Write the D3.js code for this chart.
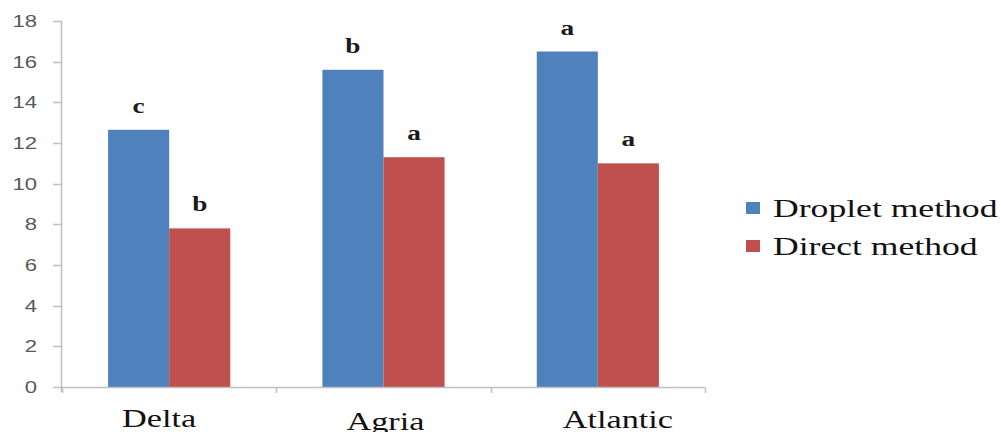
<!DOCTYPE html>
<html>
<head>
<meta charset="utf-8">
<script src="https://cdn.jsdelivr.net/npm/d3@7"></script>
<style>
  html, body { margin: 0; padding: 0; background: #fff; }
  svg { display: block; }
</style>
</head>
<body>
<svg id="chart" width="1001" height="432"></svg>
<script>
// ---- data ----
const categories = ["Delta", "Agria", "Atlantic"];
const seriesNames = ["Droplet method", "Direct method"];
const dropletValues = [12.65, 15.6, 16.5];
const directValues = [7.8, 11.3, 11.0];
const dropletLetters = ["c", "b", "a"];
const directLetters = ["b", "a", "a"];
const yTicks = [0, 2, 4, 6, 8, 10, 12, 14, 16, 18];

// ---- layout ----
const colors = ["#4F81BD", "#C0504D"];
const stretch = 1.37; // horizontal stretch of the original raster text
const svg = d3.select("#chart");

const x = d3.scaleBand().domain(categories).range([62, 705])
  .paddingInner(0.43).paddingOuter(0.215);
const xs = d3.scaleBand().domain(seriesNames).range([0, x.bandwidth()]);
const y = d3.scaleLinear().domain([0, 18]).range([387, 21]);

const series = [dropletValues, directValues];
const letters = [dropletLetters, directLetters];

// bars
seriesNames.forEach((s, si) => {
  svg.append("g").selectAll("rect")
    .data(categories)
    .join("rect")
    .attr("x", c => x(c) + xs(s))
    .attr("y", (c, i) => y(series[si][i]))
    .attr("width", xs.bandwidth())
    .attr("height", (c, i) => y(0) - y(series[si][i]))
    .attr("fill", colors[si]);

  // significance letters
  svg.append("g").selectAll("text")
    .data(categories)
    .join("text")
    .attr("transform", (c, i) =>
      `translate(${x(c) + xs(s) + xs.bandwidth() / 2},${y(series[si][i]) - 17}) scale(1.3,1)`)
    .attr("text-anchor", "middle")
    .attr("font-family", "Liberation Serif, Times New Roman, serif")
    .attr("font-weight", "bold")
    .attr("font-size", 21)
    .attr("fill", "#1a1a1a")
    .text((c, i) => letters[si][i]);
});

// y axis
const axisColor = "#BFBFBF";
const yAxis = svg.append("g");
yAxis.append("line")
  .attr("x1", 61.5).attr("x2", 61.5)
  .attr("y1", y(18)).attr("y2", y(0) + 5)
  .attr("stroke", axisColor).attr("stroke-width", 1.5);
yAxis.selectAll("line.tick").data(yTicks).join("line")
  .attr("class", "tick")
  .attr("x1", 53).attr("x2", 61.5)
  .attr("y1", d => Math.round(y(d)) + 0.5).attr("y2", d => Math.round(y(d)) + 0.5)
  .attr("stroke", axisColor).attr("stroke-width", 1.5);
yAxis.selectAll("text").data(yTicks).join("text")
  .attr("transform", d => `translate(37,${y(d) + 6}) scale(1.3,1)`)
  .attr("text-anchor", "end")
  .attr("font-family", "Liberation Sans, Arial, sans-serif")
  .attr("font-size", 17)
  .attr("fill", "#595959")
  .text(d => d);

// x axis
const xAxis = svg.append("g");
xAxis.append("line")
  .attr("x1", 61.5).attr("x2", 705)
  .attr("y1", 387.5).attr("y2", 387.5)
  .attr("stroke", axisColor).attr("stroke-width", 1.5);
const boundaries = categories.map(c => x(c) - x.step() * x.paddingInner() / 2)
  .concat([x(categories[categories.length - 1]) + x.bandwidth() + x.step() * x.paddingInner() / 2]);
xAxis.selectAll("line.tick").data(boundaries).join("line")
  .attr("class", "tick")
  .attr("x1", d => Math.round(d) + 0.5).attr("x2", d => Math.round(d) + 0.5)
  .attr("y1", 387.5).attr("y2", 393)
  .attr("stroke", axisColor).attr("stroke-width", 1.5);

const xLabelShift = [-10, 2, 20];
const xLabelBase = [427, 430, 428];
xAxis.selectAll("text").data(categories).join("text")
  .attr("transform", (c, i) =>
    `translate(${x(c) + x.bandwidth() / 2 + xLabelShift[i]},${xLabelBase[i]}) scale(${stretch},1)`)
  .attr("text-anchor", "middle")
  .attr("font-family", "Liberation Serif, Times New Roman, serif")
  .attr("font-size", 25)
  .attr("fill", "#111")
  .text(c => c);

// legend
const legend = svg.append("g");
seriesNames.forEach((s, si) => {
  const ly = 217 + si * 38;
  legend.append("rect")
    .attr("x", 746).attr("y", ly - 15)
    .attr("width", 14).attr("height", 12)
    .attr("fill", colors[si]);
  legend.append("text")
    .attr("transform", `translate(773,${ly}) scale(${stretch},1)`)
    .attr("font-family", "Liberation Serif, Times New Roman, serif")
    .attr("font-size", 26)
    .attr("fill", "#111")
    .text(s);
});
</script>
</body>
</html>
